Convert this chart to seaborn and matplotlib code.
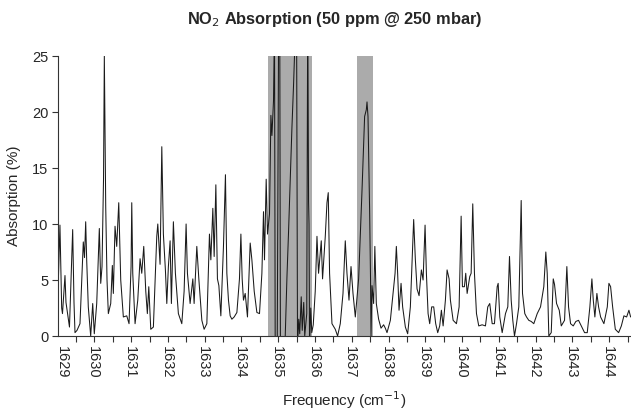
import numpy as np
import pandas as pd
import matplotlib
matplotlib.use('Agg')
import matplotlib.pyplot as plt
import seaborn as sns

# NO2 absorption spectrum (frequency in cm-1, absorption in %)
freq = [1629.049, 1629.076, 1629.103, 1629.150, 1629.172, 1629.240, 1629.267, 1629.362,
        1629.449, 1629.485, 1629.512, 1629.566, 1629.648, 1629.738, 1629.771, 1629.803,
        1629.830, 1629.874, 1629.939, 1629.994, 1630.037, 1630.103, 1630.174, 1630.212,
        1630.247, 1630.288, 1630.310, 1630.348, 1630.383, 1630.419, 1630.484, 1630.528,
        1630.555, 1630.601, 1630.647, 1630.702, 1630.756, 1630.827, 1630.920, 1630.982,
        1631.037, 1631.056, 1631.083, 1631.146, 1631.219, 1631.282, 1631.328, 1631.382,
        1631.437, 1631.480, 1631.519, 1631.573, 1631.644, 1631.736, 1631.764, 1631.826,
        1631.873, 1631.916, 1631.971, 1632.009, 1632.052, 1632.099, 1632.134, 1632.188,
        1632.243, 1632.324, 1632.417, 1632.480, 1632.534, 1632.570, 1632.643, 1632.717,
        1632.752, 1632.825, 1632.880, 1632.962, 1633.024, 1633.098, 1633.169, 1633.207,
        1633.261, 1633.297, 1633.343, 1633.386, 1633.425, 1633.479, 1633.550, 1633.604,
        1633.642, 1633.686, 1633.732, 1633.779, 1633.841, 1633.915, 1633.985, 1634.024,
        1634.059, 1634.094, 1634.141, 1634.203, 1634.277, 1634.323, 1634.386, 1634.459,
        1634.530, 1634.595, 1634.639, 1634.666, 1634.712, 1634.748, 1634.802, 1634.840,
        1634.868, 1634.911, 1634.938, 1634.957, 1635.012, 1635.053, 1635.080, 1635.099,
        1635.230, 1635.276, 1635.320, 1635.366, 1635.412, 1635.456, 1635.502, 1635.537,
        1635.564, 1635.597, 1635.624, 1635.665, 1635.692, 1635.733, 1635.760, 1635.815,
        1635.842, 1635.864, 1635.877, 1635.891, 1635.924, 1635.951, 1635.992, 1636.046,
        1636.093, 1636.136, 1636.210, 1636.245, 1636.319, 1636.365, 1636.400, 1636.436,
        1636.501, 1636.591, 1636.654, 1636.727, 1636.801, 1636.863, 1636.909, 1636.964,
        1637.019, 1637.073, 1637.136, 1637.226, 1637.318, 1637.389, 1637.435, 1637.454,
        1637.481, 1637.525, 1637.550, 1637.563, 1637.590, 1637.634, 1637.667, 1637.707,
        1637.770, 1637.835, 1637.906, 1637.952, 1637.998, 1638.089, 1638.162, 1638.217,
        1638.252, 1638.287, 1638.325, 1638.380, 1638.423, 1638.497, 1638.560, 1638.633,
        1638.687, 1638.723, 1638.769, 1638.815, 1638.870, 1638.933, 1638.979, 1639.033,
        1639.069, 1639.115, 1639.159, 1639.213, 1639.268, 1639.322, 1639.377, 1639.431,
        1639.477, 1639.524, 1639.586, 1639.632, 1639.687, 1639.722, 1639.796, 1639.886,
        1639.959, 1640.014, 1640.049, 1640.103, 1640.139, 1640.177, 1640.248, 1640.286,
        1640.330, 1640.376, 1640.431, 1640.493, 1640.585, 1640.675, 1640.738, 1640.792,
        1640.858, 1640.920, 1640.994, 1641.021, 1641.065, 1641.130, 1641.220, 1641.283,
        1641.329, 1641.375, 1641.419, 1641.465, 1641.520, 1641.582, 1641.647, 1641.683,
        1641.745, 1641.792, 1641.854, 1641.919, 1641.990, 1642.083, 1642.173, 1642.262,
        1642.317, 1642.355, 1642.399, 1642.464, 1642.519, 1642.554, 1642.609, 1642.682,
        1642.737, 1642.826, 1642.889, 1642.935, 1642.990, 1643.063, 1643.134, 1643.207,
        1643.281, 1643.371, 1643.444, 1643.515, 1643.570, 1643.608, 1643.651, 1643.706,
        1643.752, 1643.807, 1643.897, 1643.989, 1644.033, 1644.079, 1644.134, 1644.207,
        1644.297, 1644.371, 1644.441, 1644.515, 1644.577, 1644.623]

absorption = [3.8, 7.0, 9.9, 2.5, 2.0, 5.4, 3.0, 0.8,
              9.5, 3.0, 0.3, 0.5, 1.1, 8.4, 7.0, 10.2,
              6.8, 2.6, 0.0, 2.9, 0.2, 2.9, 9.6, 4.7,
              6.2, 14.0, 25.0, 11.5, 5.0, 2.0, 2.9, 6.3,
              3.8, 9.8, 8.0, 11.9, 5.0, 1.7, 1.8, 1.1,
              6.2, 11.9, 5.6, 1.1, 3.2, 6.9, 5.6, 8.0,
              4.0, 2.0, 4.4, 0.6, 0.8, 8.9, 10.0, 6.4,
              16.9, 9.1, 5.9, 2.9, 6.2, 8.5, 2.9, 10.2,
              5.6, 2.0, 1.1, 4.0, 10.0, 5.6, 2.9, 5.1,
              2.9, 8.0, 5.1, 1.4, 0.6, 1.1, 9.1, 6.8,
              11.4, 7.1, 13.5, 5.1, 4.5, 1.8, 8.0, 14.4,
              5.6, 3.2, 1.8, 1.5, 1.7, 2.1, 5.1, 9.1,
              5.1, 3.2, 3.8, 1.7, 8.3, 6.8, 4.0, 2.1,
              2.0, 5.6, 11.1, 6.8, 14.0, 9.1, 10.9, 19.7,
              17.9, 21.0, 28.0, -1.0, -1.0, 30.0, 30.0, -1.0,
              0.0, 5.2, 9.3, 14.1, 18.6, 22.4, 27.0, 30.0,
              -1.0, 1.5, 0.2, 3.5, 0.5, 3.0, 0.0, 2.0,
              30.0, 12.0, 10.0, -1.0, 2.5, 0.3, 1.0, 4.0,
              8.9, 5.6, 8.5, 5.1, 8.9, 11.9, 12.8, 5.6,
              1.1, 0.6, 0.0, 1.1, 3.8, 8.5, 5.6, 3.2,
              6.2, 3.8, 1.7, 5.1, 13.0, 19.6, 20.2, 20.9,
              19.6, 11.2, 5.0, 0.0, 4.5, 2.9, 8.0, 2.9,
              1.5, 0.7, 1.0, 0.7, 0.3, 1.4, 3.8, 5.6,
              8.0, 5.6, 2.3, 4.7, 2.6, 0.8, 0.2, 2.6,
              7.4, 10.4, 6.8, 4.2, 3.6, 5.9, 5.0, 9.9,
              5.6, 2.0, 1.1, 2.6, 2.6, 1.1, 0.3, 0.9,
              2.3, 0.9, 3.2, 5.9, 5.1, 3.2, 1.4, 1.1,
              2.6, 10.7, 4.4, 4.4, 5.6, 3.8, 5.3, 5.6,
              11.8, 5.6, 2.0, 0.9, 1.0, 0.9, 2.6, 2.9,
              1.1, 1.1, 4.4, 4.7, 1.7, 0.3, 2.0, 2.6,
              7.1, 3.2, 1.4, 0.0, 1.1, 2.6, 12.1, 3.8,
              2.0, 1.7, 1.4, 1.3, 1.1, 2.0, 2.6, 4.4,
              7.5, 5.6, 0.0, 0.3, 5.1, 4.6, 2.9, 2.3,
              0.9, 1.4, 6.2, 2.6, 1.1, 0.9, 1.3, 1.4,
              0.9, 0.3, 0.3, 2.6, 5.1, 3.2, 1.7, 3.8,
              2.6, 1.7, 1.1, 2.6, 4.7, 4.4, 2.6, 0.6,
              0.3, 0.9, 1.8, 1.7, 2.3, 1.7]

# shaded (saturated) bands
bands = [(1634.77, 1635.97), (1637.19, 1637.62)]

tick_labels = [str(v) for v in range(1629, 1645)]
y_ticks = [0, 5, 10, 15, 20, 25]

df = pd.DataFrame({'freq': freq, 'absorption': absorption})

sns.set_style('ticks')
plt.rcParams['font.family'] = ['Liberation Sans', 'DejaVu Sans']

fig = plt.figure(figsize=(6.31, 4.11), dpi=100)
ax = fig.add_axes([58 / 631, 75 / 411, 572.5 / 631, 280 / 411])

for lo, hi in bands:
    ax.axvspan(lo, hi, color='#ababab', lw=0, zorder=0)

sns.lineplot(data=df, x='freq', y='absorption', sort=False, estimator=None,
             color='#1a1a1a', lw=0.75, ax=ax, zorder=2)

ax.set_xlim(1629.05, 1644.62)
ax.set_ylim(0, 25)

# labels sit at whole numbers (first one at the left edge), tick marks every half unit
label_pos = [1629.0 + i for i in range(16)]
label_pos[0] = 1629.15
ax.set_xticks(label_pos)
ax.set_xticklabels(tick_labels, rotation=270, fontsize=10.5)
ax.set_xticks(np.arange(1629.54, 1644.7, 0.5), minor=True)
ax.tick_params(axis='x', which='major', length=0, pad=7)
ax.tick_params(axis='x', which='minor', length=4, width=0.8, direction='out', color='#333333')
ax.set_yticks(y_ticks)
ax.tick_params(axis='y', length=4, width=0.8, labelsize=10.5, color='#333333', pad=3)

for s in ['top', 'right']:
    ax.spines[s].set_visible(False)
for s in ['left', 'bottom']:
    ax.spines[s].set_linewidth(0.8)
    ax.spines[s].set_color('#333333')

ax.set_xlabel('Frequency (cm$^{-1}$)', fontsize=11, labelpad=8)
ax.set_ylabel('Absorption (%)', fontsize=11, labelpad=8)
fig.text(0.53, 0.952, 'NO$_2$ Absorption (50 ppm @ 250 mbar)', ha='center', va='center',
         fontsize=11.8, fontweight='bold')

fig.savefig('out.png', dpi=100)
